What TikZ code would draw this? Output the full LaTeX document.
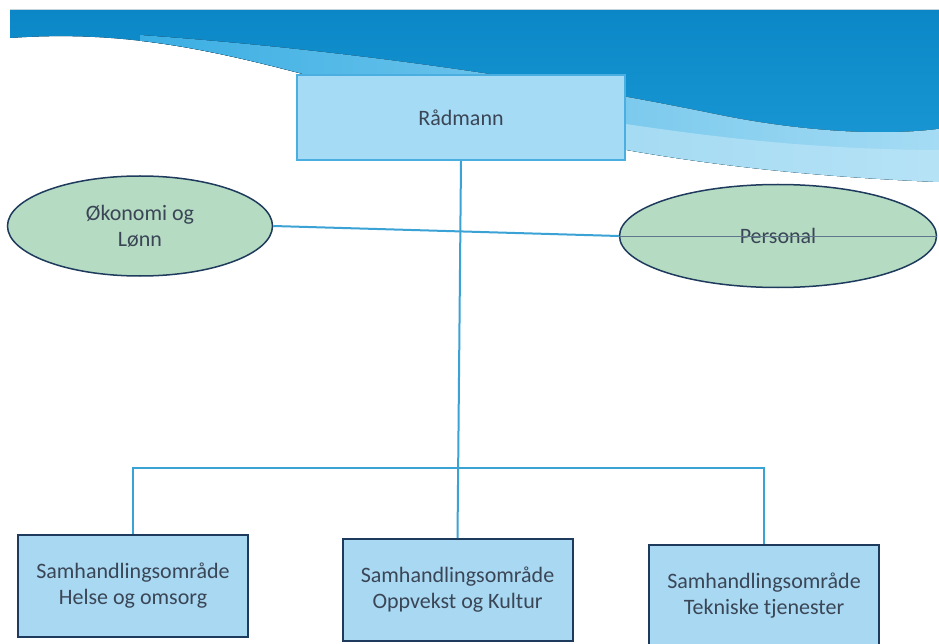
\documentclass[tikz,border=0pt]{standalone}
\usepackage{fontspec}
\setmainfont{Carlito}
\usetikzlibrary{shapes.geometric}
\definecolor{bandtop}{HTML}{0A86C6}
\definecolor{bandbot}{HTML}{1E9DD8}
\definecolor{lightA}{HTML}{3AAEE3}
\definecolor{lightB}{HTML}{A6DCF4}
\definecolor{boxfill}{HTML}{A9D8F2}
\definecolor{radfill}{HTML}{A6DBF5}
\definecolor{radedge}{HTML}{4AAEE0}
\definecolor{navy}{HTML}{1E3A5C}
\definecolor{ellfill}{HTML}{B5DBC2}
\definecolor{conn}{HTML}{3AA2D4}
\definecolor{txt}{HTML}{3A4656}
\tikzset{
  lbl/.style={text=txt, font=\fontsize{22}{26}\selectfont, align=center},
  unitbox/.style={lbl, draw=navy, line width=2pt, fill=boxfill, minimum width=230pt, minimum height=102pt, inner sep=0pt},
  topbox/.style={lbl, draw=radedge, line width=2pt, fill=radfill, minimum width=328pt, minimum height=85pt, inner sep=0pt},
  staff/.style={lbl, ellipse, draw=navy, line width=1.5pt, fill=ellfill, inner sep=0pt},
  conline/.style={draw=conn, line width=2pt},
}
\begin{document}
\begin{tikzpicture}[x=1pt,y=-1pt]
\useasboundingbox (0,0) rectangle (939,644);
% background wave band
\begin{scope}
\clip (10,10) -- (939,10) -- (939,182) .. controls (700,172) and (560,140) .. (400,100) .. controls (250,60) and (150,28) .. (10,38) -- cycle;
\fill[top color=bandtop, bottom color=bandbot] (0,0) rectangle (939,200);
\fill[left color=lightA, right color=lightB] (140,35) .. controls (350,50) and (550,80) .. (720,115) .. controls (820,135) and (900,135) .. (945,128) -- (945,250) -- (140,250) -- cycle;
\fill[lightB!70!white, opacity=0.6] (420,90) .. controls (600,120) and (750,150) .. (945,150) -- (945,250) -- (420,250) -- cycle;
\end{scope}
% nodes
\node[topbox] (rad) at (461,117.5) {Rådmann};
\node[staff, minimum width=265pt, minimum height=100pt] (oko) at (140,226) {Økonomi og\\Lønn};
\node[staff, minimum width=317pt, minimum height=103pt] (pers) at (778,236) {Personal};
\node[unitbox] (hel) at (133,585.5) {Samhandlingsområde\\Helse og omsorg};
\node[unitbox] (opp) at (457.5,590) {Samhandlingsområde\\Oppvekst og Kultur};
\node[unitbox] (tek) at (764,596) {Samhandlingsområde\\Tekniske tjenester};
\coordinate (bus) at (457,468);
% connectors
\draw[conline] (oko.east) -- (pers.west);
\draw[navy!70, line width=0.8pt] (pers.west) -- (pers.east);
\draw[conline] (rad.south) -- (opp.north);
\draw[conline] (hel.north) |- (bus) -| (tek.north);
\end{tikzpicture}
\end{document}
